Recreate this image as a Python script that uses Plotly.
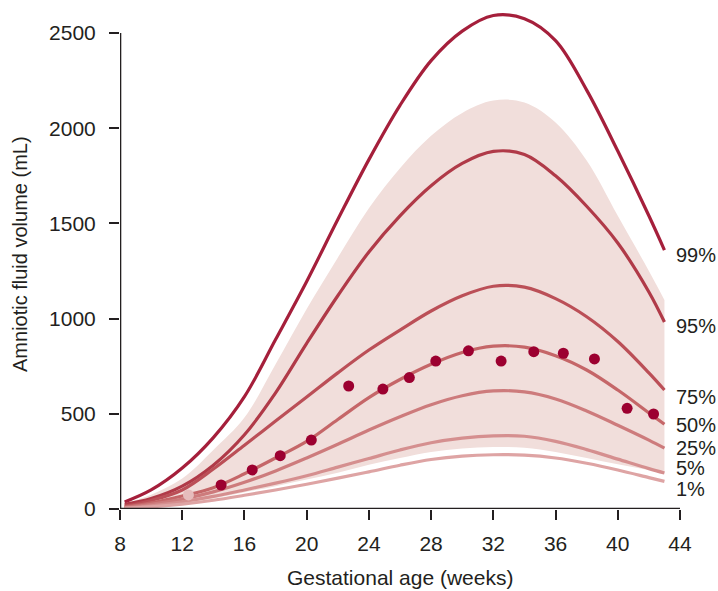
import plotly.graph_objects as go

# Gestational age (weeks) at which the percentile curves are sampled
weeks = [8.3, 10, 12, 14, 16, 18, 20, 22, 24, 26, 28, 30, 32, 34, 36, 38, 40, 42, 43]

# Amniotic fluid volume percentiles (mL)
p99 = [37, 100, 215, 375, 590, 890, 1195, 1520, 1835, 2120, 2355, 2510, 2592, 2575, 2460, 2200, 1880, 1540, 1360]
p95 = [25, 55, 120, 230, 390, 610, 870, 1120, 1350, 1540, 1698, 1815, 1878, 1862, 1750, 1590, 1397, 1140, 982]
p75 = [15, 45, 100, 210, 335, 462, 588, 715, 835, 940, 1040, 1120, 1170, 1165, 1105, 1010, 880, 715, 625]
p50 = [10, 32, 68, 112, 185, 268, 355, 470, 585, 680, 760, 822, 855, 850, 805, 730, 625, 505, 445]
p25 = [8, 24, 52, 90, 140, 200, 268, 340, 415, 485, 548, 595, 620, 615, 578, 515, 440, 362, 320]
p5 = [5, 17, 38, 66, 100, 136, 175, 220, 265, 310, 348, 372, 384, 382, 355, 312, 262, 212, 189]
p1 = [3, 11, 26, 46, 72, 100, 130, 162, 195, 230, 260, 278, 285, 283, 268, 240, 205, 165, 145]

# Shaded reference range (mL)
band_hi = [30, 75, 160, 310, 480, 760, 1050, 1320, 1580, 1790, 1960, 2080, 2145, 2135, 2030, 1830, 1540, 1250, 1098]
band_lo = [3, 13, 30, 55, 88, 120, 155, 190, 232, 268, 300, 318, 326, 322, 300, 268, 235, 205, 194]

# Observed mean volumes (weeks, mL)
obs_weeks = [14.5, 16.5, 18.3, 20.3, 22.7, 24.9, 26.6, 28.3, 30.4, 32.5, 34.6, 36.5, 38.5, 40.6, 42.3]
obs_vol = [126, 205, 280, 362, 646, 630, 690, 777, 831, 777, 826, 818, 788, 529, 499]
faint_weeks = [12.4]
faint_vol = [74]

labels = ["99%", "95%", "75%", "50%", "25%", "5%", "1%"]
label_y = [1334, 961, 588, 441, 322, 217, 103]

x_ticks = [8, 12, 16, 20, 24, 28, 32, 36, 40, 44]
y_ticks = [0, 500, 1000, 1500, 2000, 2500]

series = [p99, p95, p75, p50, p25, p5, p1]
colors = ["#a51f3b", "#b03a48", "#bb4f57", "#c56668", "#cd7b7c", "#d58f8f", "#dea4a4"]

FONT = "Liberation Sans, Arial, sans-serif"
AXIS = "#231f20"
TEXT = "#231f20"

fig = go.Figure()

fig.add_trace(go.Scatter(x=weeks, y=band_lo, mode="lines", line=dict(width=0, shape="spline"),
                         hoverinfo="skip", showlegend=False))
fig.add_trace(go.Scatter(x=weeks, y=band_hi, mode="lines", line=dict(width=0, shape="spline"),
                         fill="tonexty", fillcolor="#f1dedb", hoverinfo="skip", showlegend=False))

for vals, col in zip(series, colors):
    fig.add_trace(go.Scatter(x=weeks, y=vals, mode="lines",
                             line=dict(color=col, width=3.2, shape="spline", smoothing=1),
                             showlegend=False))

fig.add_trace(go.Scatter(x=faint_weeks, y=faint_vol, mode="markers",
                         marker=dict(size=11, color="#e6bcbc"), showlegend=False))
fig.add_trace(go.Scatter(x=obs_weeks, y=obs_vol, mode="markers",
                         marker=dict(size=11, color="#9c0030"), showlegend=False))

for txt, yv in zip(labels, label_y):
    fig.add_annotation(x=43.6, y=yv, text=txt, showarrow=False, xanchor="left", yanchor="middle",
                       font=dict(family=FONT, size=20, color=TEXT))

# Axis titles
fig.add_annotation(xref="paper", yref="paper", x=0.5, y=-0.138, text="Gestational age (weeks)",
                   showarrow=False, xanchor="center", yanchor="middle",
                   font=dict(family=FONT, size=21, color=TEXT))
fig.add_annotation(xref="paper", yref="paper", x=-0.1786, y=0.511, text="Amniotic fluid volume (mL)",
                   showarrow=False, textangle=-90, xanchor="center", yanchor="middle",
                   font=dict(family=FONT, size=20, color=TEXT))

# Axis lines limited to the labelled range
fig.add_shape(type="line", x0=8, x1=8, y0=0, y1=2500, line=dict(color=AXIS, width=2.6), layer="above")
fig.add_shape(type="line", x0=8, x1=44, y0=0, y1=0, line=dict(color=AXIS, width=2.6), layer="above")

fig.update_layout(
    width=718, height=591,
    margin=dict(l=120, r=38, t=10, b=82),
    paper_bgcolor="white", plot_bgcolor="white",
    font=dict(family=FONT, size=21, color=TEXT),
    xaxis=dict(range=[8, 44], tickvals=x_ticks, ticktext=[str(v) for v in x_ticks],
               ticks="outside", ticklen=10, tickwidth=2, tickcolor=AXIS, ticklabelstandoff=6,
               showgrid=False, zeroline=False, showline=False),
    yaxis=dict(range=[0, 2620.8], tickvals=y_ticks, ticktext=[str(v) for v in y_ticks],
               ticks="outside", ticklen=10, tickwidth=2, tickcolor=AXIS, ticklabelstandoff=9,
               showgrid=False, zeroline=False, showline=False),
)

fig.write_html("out.html")
